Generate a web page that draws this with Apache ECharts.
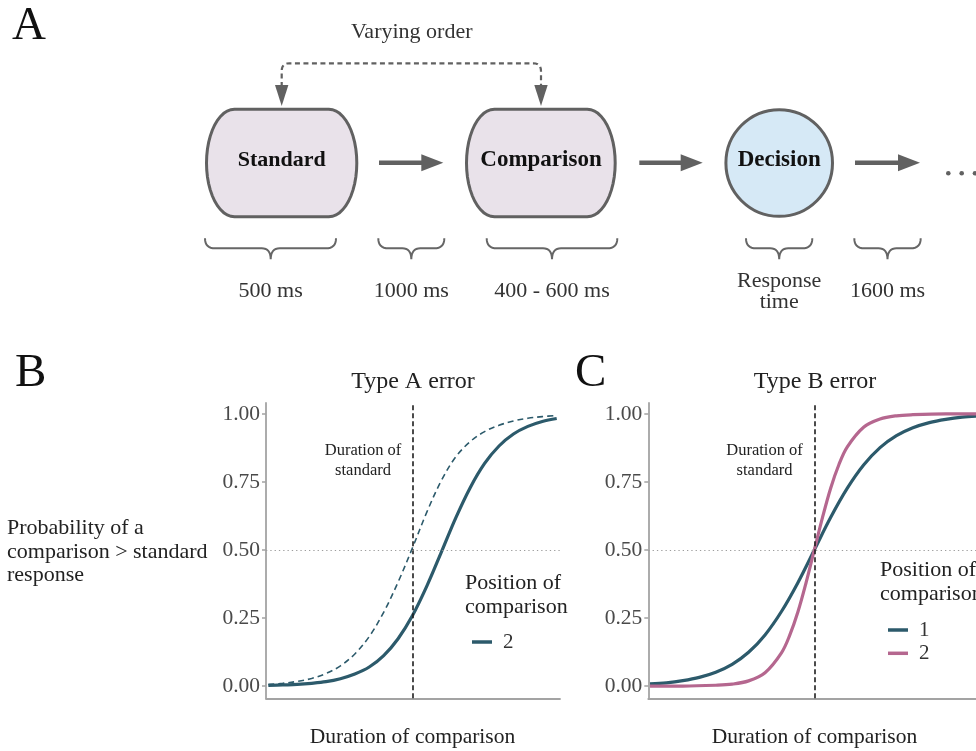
<!DOCTYPE html>
<html>
<head>
<meta charset="utf-8">
<script src="https://cdn.jsdelivr.net/npm/echarts@6/dist/echarts.min.js"></script>
<style>
  html, body { margin: 0; padding: 0; background: #ffffff; }
  #chart { width: 976px; height: 751px; }
</style>
</head>
<body>
<div id="chart"></div>
<script>
// ---- Psychometric curves (x = comparison duration, 0..100 scale, standard at 50) ----
const xB = [0, 5, 10, 15, 20, 25, 30, 35, 40, 45, 50, 55, 60, 65, 70, 75, 80, 85, 90, 95, 100];
// Panel B: comparison presented second (solid) and the unbiased curve (dashed)
const typeAPos2 = [0.002, 0.004, 0.006, 0.010, 0.016, 0.027, 0.044, 0.070, 0.112, 0.174, 0.259,
                   0.368, 0.492, 0.618, 0.729, 0.818, 0.882, 0.926, 0.954, 0.972, 0.983];
const typeARef  = [0.006, 0.010, 0.017, 0.028, 0.046, 0.074, 0.118, 0.182, 0.271, 0.382, 0.508,
                   0.640, 0.755, 0.842, 0.898, 0.935, 0.958, 0.974, 0.984, 0.990, 0.994];

// Panel C: comparison first (shallow) vs second (steep)
const xC1 = [0, 5, 10, 15, 20, 25, 30, 35, 40, 45, 50, 55, 60, 65, 70, 75, 80, 85, 90, 95, 100];
const typeBPos1 = [0.008, 0.012, 0.020, 0.032, 0.051, 0.080, 0.124, 0.188, 0.274, 0.380, 0.500,
                   0.620, 0.726, 0.812, 0.876, 0.920, 0.949, 0.968, 0.980, 0.988, 0.992];
const xC2 = [0, 10, 20, 25, 30, 35, 40, 42.5, 45, 47.5, 50, 52.5, 55, 57.5, 60, 65, 70, 75, 80, 90, 100];
const typeBPos2 = [0.000, 0.000, 0.003, 0.007, 0.019, 0.049, 0.122, 0.186, 0.272, 0.380, 0.500,
                   0.620, 0.728, 0.814, 0.878, 0.951, 0.981, 0.993, 0.997, 1.000, 1.000];

const yTicks = [0, 0.25, 0.5, 0.75, 1];
const standardDuration = 50;
const chanceLevel = 0.5;

// ---- Timeline labels (panel A) ----
const stageNames = ['Standard', 'Comparison', 'Decision'];
const intervalLabels = ['500 ms', '1000 ms', '400 - 600 ms', 'Response\ntime', '1600 ms'];

// ---- Styling ----
const SERIF = '"Liberation Serif", "DejaVu Serif", serif';
const TEAL = '#2c5a6b';
const PINK = '#b5678f';
const AXIS_GREY = '#a3a3a3';
const SHAPE_GREY = '#616161';

const pairs = (xs, ys) => xs.map((x, i) => [x, ys[i]]);

function txt(str, x, y, size, extra) {
  return {
    type: 'text', x: x, y: y, silent: true,
    style: Object.assign({
      text: str, fontFamily: SERIF, fontSize: size, fill: '#222',
      align: 'center', verticalAlign: 'middle'
    }, extra || {})
  };
}

// sample a quadratic Bezier
function quad(p0, p1, p2, n) {
  const out = [];
  for (let i = 0; i <= n; i++) {
    const t = i / n, a = (1 - t) * (1 - t), b = 2 * t * (1 - t), c = t * t;
    out.push([a * p0[0] + b * p1[0] + c * p2[0], a * p0[1] + b * p1[1] + c * p2[1]]);
  }
  return out;
}

// stadium-like outline with elliptical sides
function pillPoints(x0, y0, x1, y1, rx) {
  const ry = (y1 - y0) / 2, ym = (y0 + y1) / 2, pts = [], n = 24;
  for (let i = 0; i <= n; i++) {           // right side, top -> bottom
    const a = -Math.PI / 2 + Math.PI * i / n;
    pts.push([x1 - rx + rx * Math.cos(a), ym + ry * Math.sin(a)]);
  }
  for (let i = 0; i <= n; i++) {           // left side, bottom -> top
    const a = Math.PI / 2 + Math.PI * i / n;
    pts.push([x0 + rx + rx * Math.cos(a), ym + ry * Math.sin(a)]);
  }
  return pts;
}

function bracePoints(x0, x1, cx, top, mid, tip) {
  return [].concat(
    quad([x0, top], [x0, mid], [x0 + 10, mid], 8),
    quad([cx - 9, mid], [cx, mid], [cx, tip], 8),
    quad([cx, tip], [cx, mid], [cx + 9, mid], 8),
    quad([x1 - 10, mid], [x1, mid], [x1, top], 8)
  );
}

function arrow(xa, xb, y) {
  return [
    { type: 'line', silent: true, shape: { x1: xa, y1: y, x2: xb - 19, y2: y },
      style: { stroke: SHAPE_GREY, lineWidth: 4.5 } },
    { type: 'polygon', silent: true, shape: { points: [[xb - 22, y - 8.5], [xb, y], [xb - 22, y + 8.5]] },
      style: { fill: SHAPE_GREY } }
  ];
}

const graphics = [];

// Panel letters
graphics.push(txt('A', 12, 27, 47, { align: 'left', fill: '#111' }));
graphics.push(txt('B', 15, 374, 47, { align: 'left', fill: '#111' }));
graphics.push(txt('C', 575, 374, 47, { align: 'left', fill: '#111' }));

// Panel A: stages
graphics.push({ type: 'polygon', silent: true, shape: { points: pillPoints(206.5, 109.2, 356.8, 216.8, 28) },
  style: { fill: '#e9e2ea', stroke: SHAPE_GREY, lineWidth: 3 } });
graphics.push({ type: 'polygon', silent: true, shape: { points: pillPoints(466.5, 109.2, 615.2, 216.8, 28) },
  style: { fill: '#e9e2ea', stroke: SHAPE_GREY, lineWidth: 3 } });
graphics.push({ type: 'circle', silent: true, shape: { cx: 779.2, cy: 163, r: 53.3 },
  style: { fill: '#d6e9f6', stroke: SHAPE_GREY, lineWidth: 3 } });
graphics.push(txt(stageNames[0], 281.7, 160, 22, { fontWeight: 'bold', fill: '#111' }));
graphics.push(txt(stageNames[1], 541, 160, 23, { fontWeight: 'bold', fill: '#111' }));
graphics.push(txt(stageNames[2], 779.2, 160, 23, { fontWeight: 'bold', fill: '#111' }));

// Arrows between stages
graphics.push(...arrow(379, 443.3, 162.7));
graphics.push(...arrow(639.3, 702.7, 162.7));
graphics.push(...arrow(855, 920, 162.7));

// Trailing ellipsis
[948.3, 961.7, 975].forEach(cx => graphics.push({ type: 'circle', silent: true,
  shape: { cx: cx, cy: 173.3, r: 2.3 }, style: { fill: SHAPE_GREY } }));

// Dashed "varying order" connector
const connector = [].concat(
  [[281.7, 87]],
  quad([281.7, 71], [281.7, 63.3], [289.4, 63.3], 6),
  quad([533.3, 63.3], [541, 63.3], [541, 71], 6),
  [[541, 87]]
);
graphics.push({ type: 'polyline', silent: true, shape: { points: connector },
  style: { fill: null, stroke: SHAPE_GREY, lineWidth: 2.2, lineDash: [5, 3.5] } });
graphics.push({ type: 'polygon', silent: true, shape: { points: [[275, 85], [288.4, 85], [281.7, 106]] },
  style: { fill: SHAPE_GREY } });
graphics.push({ type: 'polygon', silent: true, shape: { points: [[534.3, 85], [547.7, 85], [541, 106]] },
  style: { fill: SHAPE_GREY } });
graphics.push(txt('Varying order', 411.7, 32, 22, { fill: '#333' }));

// Braces with durations
const braces = [[205, 336, 270.7], [378.3, 444.3, 411.3], [486.7, 617.3, 552], [746, 812.3, 779.2], [854.3, 920.7, 887.5]];
braces.forEach((b, i) => {
  graphics.push({ type: 'polyline', silent: true, shape: { points: bracePoints(b[0], b[1], b[2], 238.3, 248.3, 259.3) },
    style: { fill: null, stroke: '#666', lineWidth: 2 } });
  graphics.push(txt(intervalLabels[i], b[2], i === 3 ? 292.2 : 291.7, 22, { fill: '#333', lineHeight: 21 }));
});

// Panels B/C text
graphics.push(txt('Type A error', 413, 382, 24, { fill: '#222' }));
graphics.push(txt('Type B error', 815, 382, 24, { fill: '#222' }));
graphics.push(txt('Probability of a\ncomparison > standard\nresponse', 7, 552, 22, { align: 'left', fill: '#222', lineHeight: 23.5 }));
graphics.push(txt('Duration of comparison', 412.5, 737, 21.5, { fill: '#222' }));
graphics.push(txt('Duration of comparison', 814.5, 737, 21.5, { fill: '#222' }));
graphics.push(txt('Duration of\nstandard', 363, 460.5, 16.5, { fill: '#222', lineHeight: 20 }));
graphics.push(txt('Duration of\nstandard', 764.5, 460.5, 16.5, { fill: '#222', lineHeight: 20 }));
graphics.push(txt('Position of\ncomparison', 465, 595, 22, { align: 'left', fill: '#222', lineHeight: 23.5 }));
graphics.push(txt('Position of\ncomparison', 880, 582, 22, { align: 'left', fill: '#222', lineHeight: 23.5 }));

function xAxisCfg(gridIndex, min, max) {
  return {
    type: 'value', gridIndex: gridIndex, min: min, max: max,
    axisLine: { show: true, onZero: false, lineStyle: { color: AXIS_GREY, width: 1.8 } },
    axisTick: { show: false }, axisLabel: { show: false }, splitLine: { show: false }
  };
}
function yAxisCfg(gridIndex) {
  return {
    type: 'value', gridIndex: gridIndex, min: -0.045, max: 1.04,
    axisLine: { show: true, onZero: false, lineStyle: { color: AXIS_GREY, width: 1.8 } },
    axisTick: { show: true, length: 4, customValues: yTicks, lineStyle: { color: AXIS_GREY, width: 1.5 } },
    axisLabel: { customValues: yTicks, margin: 6, color: '#4a4a4a', fontFamily: SERIF, fontSize: 21.5,
                 formatter: v => v.toFixed(2) },
    splitLine: { show: false }
  };
}

function refLines() {
  return {
    silent: true, symbol: ['none', 'none'], label: { show: false }, animation: false,
    data: [
      { xAxis: standardDuration, lineStyle: { color: '#1e1e1e', type: [5, 3], width: 1.6 } },
      { yAxis: chanceLevel, lineStyle: { color: '#9d9d9d', type: [1.3, 3], width: 1.2 } }
    ]
  };
}

function curve(name, xi, xs, ys, color, width, dashed, withRefs) {
  const s = {
    name: name, type: 'line', xAxisIndex: xi, yAxisIndex: xi,
    data: pairs(xs, ys), smooth: 0.35, showSymbol: false, symbol: 'none',
    lineStyle: { color: color, width: width, type: dashed ? [6, 4] : 'solid' },
    itemStyle: { color: color }, emphasis: { disabled: true }, z: 3
  };
  if (withRefs) s.markLine = refLines();
  return s;
}

const legendBase = {
  orient: 'vertical', icon: 'rect', itemWidth: 20, itemHeight: 3.5, itemGap: 1.3, selectedMode: false,
  textStyle: { fontFamily: SERIF, fontSize: 21, color: '#333', lineHeight: 22, padding: [0, 0, 0, 6] },
  formatter: n => n.split('-')[1]
};

const chart = echarts.init(document.getElementById('chart'), null, { renderer: 'canvas' });
chart.setOption({
  animation: false,
  backgroundColor: '#ffffff',
  grid: [
    { left: 266, top: 403, width: 294, height: 295.3, containLabel: false, outerBoundsMode: 'none' },
    { left: 648.3, top: 403, width: 333.6, height: 295.3, containLabel: false, outerBoundsMode: 'none' }
  ],
  xAxis: [xAxisCfg(0, -0.8, 101.14), xAxisCfg(1, -0.52, 101)],
  yAxis: [yAxisCfg(0), yAxisCfg(1)],
  legend: [
    Object.assign({}, legendBase, { data: ['B-2'], left: 467, top: 626 }),
    Object.assign({}, legendBase, { data: ['C-1', 'C-2'], left: 883, top: 614 })
  ],
  series: [
    curve('B-ref', 0, xB, typeARef, TEAL, 1.6, true, true),
    curve('B-2', 0, xB, typeAPos2, TEAL, 3.2, false, false),
    curve('C-1', 1, xC1, typeBPos1, TEAL, 3.2, false, true),
    curve('C-2', 1, xC2, typeBPos2, PINK, 3.2, false, false)
  ],
  graphic: graphics
});
</script>
</body>
</html>
